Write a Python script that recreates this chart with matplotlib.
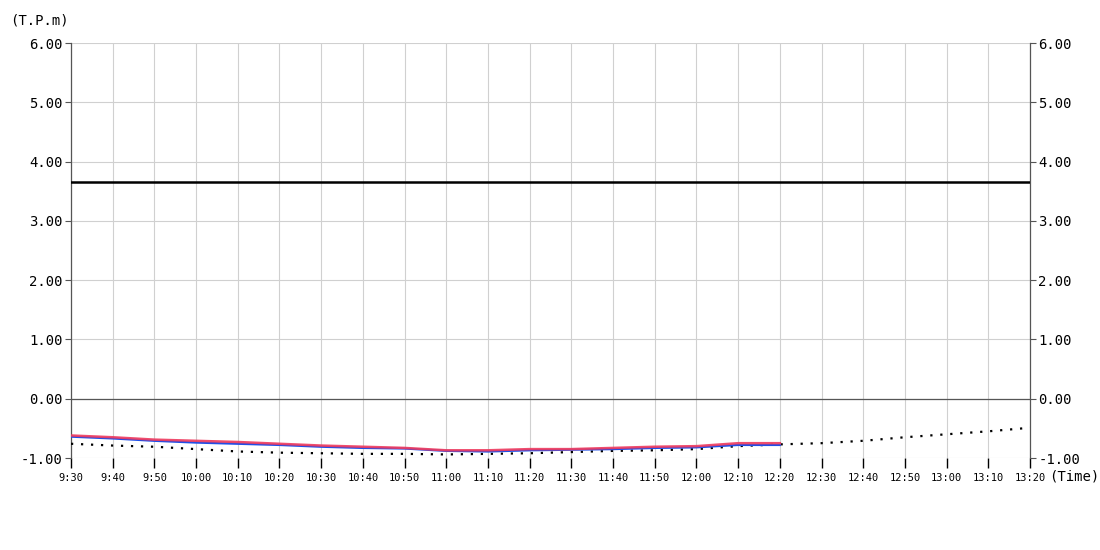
import matplotlib
matplotlib.use("Agg")
import matplotlib.pyplot as plt

# time labels every 10 minutes
times = ["9:30", "9:40", "9:50", "10:00", "10:10", "10:20", "10:30", "10:40",
         "10:50", "11:00", "11:10", "11:20", "11:30", "11:40", "11:50", "12:00",
         "12:10", "12:20", "12:30", "12:40", "12:50", "13:00", "13:10", "13:20"]

# observed values (up to 12:20)
red_vals = [-0.62, -0.65, -0.69, -0.71, -0.73, -0.76, -0.79, -0.81, -0.83,
            -0.87, -0.87, -0.85, -0.85, -0.83, -0.81, -0.80, -0.75, -0.75]
blue_vals = [-0.64, -0.67, -0.71, -0.74, -0.76, -0.78, -0.81, -0.83, -0.84,
             -0.88, -0.89, -0.87, -0.86, -0.85, -0.83, -0.82, -0.78, -0.78]
# forecast (whole range)
fc_vals = [-0.76, -0.79, -0.81, -0.85, -0.89, -0.91, -0.92, -0.93, -0.93,
           -0.94, -0.93, -0.92, -0.90, -0.88, -0.87, -0.85, -0.80, -0.77,
           -0.75, -0.71, -0.65, -0.60, -0.55, -0.49]
threshold = 3.66
y_ticks = [-1, 0, 1, 2, 3, 4, 5, 6]

mono = "DejaVu Sans Mono"

fig = plt.figure(figsize=(11, 5.5), dpi=100)
ax = fig.add_axes([71 / 1100, 1 - 458 / 550, 959 / 1100, 415 / 550])

x_all = list(range(len(times)))
ax.plot(x_all, fc_vals, color="black", linestyle=(0, (1, 3.5)), lw=1.6, zorder=3)
ax.plot(x_all[:len(blue_vals)], blue_vals, color="#1f4fe8", lw=1.6, zorder=4)
ax.plot(x_all[:len(red_vals)], red_vals, color="#ee3a5e", lw=1.8, alpha=0.9, zorder=5)
ax.axhline(threshold, color="black", lw=1.8, zorder=4)
ax.axhline(0, color="#555555", lw=0.9, zorder=2)

ax.set_xlim(0, len(times) - 1)
ax.set_ylim(-1, 6)
ax.set_xticks(x_all)
ax.set_xticklabels(times, fontsize=7.5, family=mono)
ax.set_yticks(y_ticks)
ax.set_yticklabels(["%.2f" % v for v in y_ticks], fontsize=10, family=mono)
ax.grid(True, color="#d0d0d0", lw=0.8, zorder=0)
ax.tick_params(axis="x", length=7, width=1, color="black", pad=4)
ax.tick_params(axis="y", length=4, width=0.8, color="#555555", pad=2,
               left=True, right=True, labelleft=True, labelright=True)

for side in ["top", "bottom"]:
    ax.spines[side].set_visible(False)
for side in ["left", "right"]:
    ax.spines[side].set_color("#555555")
    ax.spines[side].set_linewidth(0.9)

fig.text(10 / 1100, 1 - 20 / 550, "(T.P.m)", fontsize=10, family=mono, va="center", ha="left")
fig.text(1049 / 1100, 1 - 477 / 550, "(Time)", fontsize=10, family=mono, va="center", ha="left")

fig.savefig("out.png", dpi=100)
